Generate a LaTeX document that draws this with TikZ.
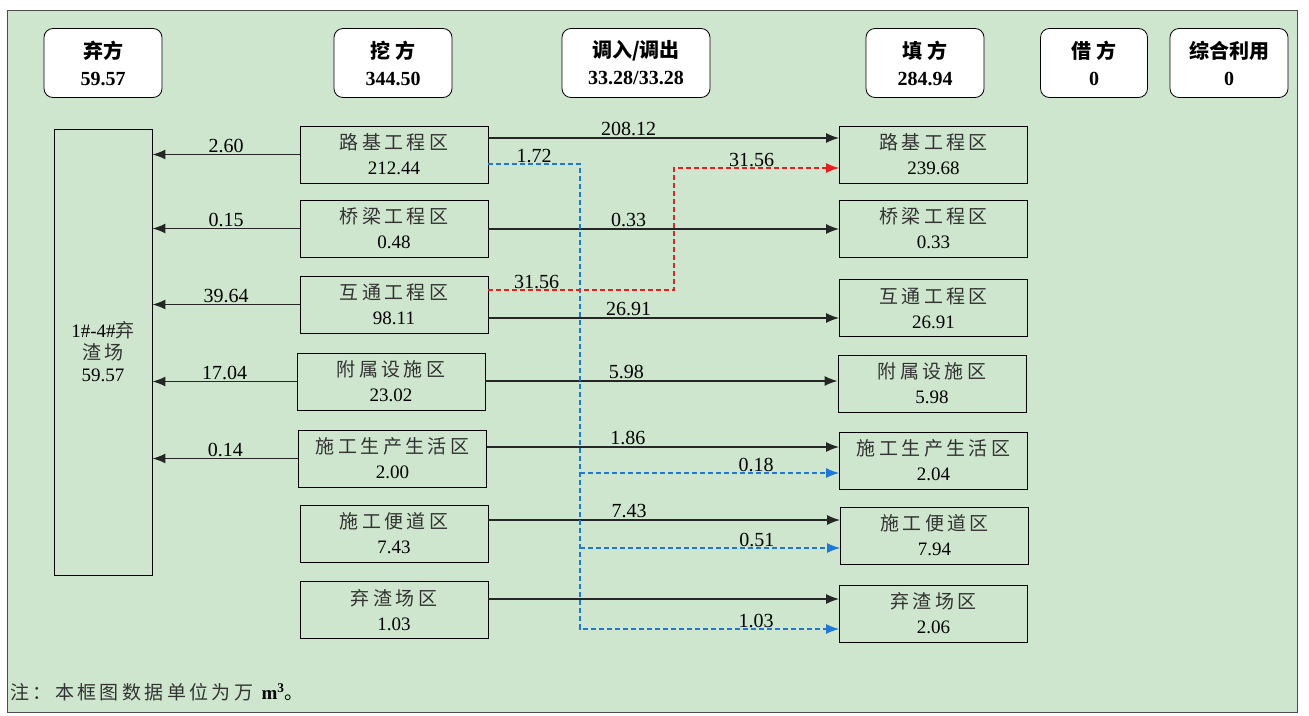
\documentclass[tikz,border=0pt]{standalone}
\usepackage{fontspec}
\setmainfont{Liberation Serif}
\newfontfamily\cjk{Noto Sans CJK SC}
\newfontfamily\cjksp[LetterSpace=18,Color=333333]{Noto Sans CJK SC}
\usetikzlibrary{arrows.meta,positioning}
\definecolor{bggreen}{RGB}{206,230,206}
\definecolor{blue}{RGB}{30,120,215}
\definecolor{red}{RGB}{235,30,30}

\begin{document}
\begin{tikzpicture}[>={Latex[length=13pt,width=10pt]},x=1pt,y=-1pt,
  head/.style={draw,fill=white,thick,rounded corners=9pt,minimum width=118pt,minimum height=69pt,
    align=center,font=\fontsize{20}{27}\selectfont\bfseries},
  area/.style={draw,thick,minimum width=188pt,minimum height=57pt,align=center,
    font=\fontsize{19}{25}\selectfont},
  flow/.style={->,line width=1.6pt,black!85},
  bluedash/.style={->,dash pattern=on 5pt off 3pt,line width=1.2pt,blue},
  reddash/.style={->,dash pattern=on 5pt off 3pt,line width=1.2pt,red},
  val/.style={font=\fontsize{20}{22}\selectfont,inner sep=1pt,text=black}]
\useasboundingbox (0,0) rectangle (1309,715);
\draw[fill=bggreen,draw=black!70,thick] (7,10) rectangle (1297,712);
% header boxes
\node[head] (qf) at (103,63) {{\cjk 弃方}\\59.57};
\node[head] (wf) at (393,63) {{\cjk 挖 方}\\344.50};
\node[head,minimum width=148pt] (dr) at (636,63) {{\cjk 调入/调出}\\33.28/33.28};
\node[head] (tf) at (925,63) {{\cjk 填 方}\\284.94};
\node[head,minimum width=107pt] (jf) at (1094,63) {{\cjk 借 方}\\0};
\node[head] (zh) at (1229,63) {{\cjk 综合利用}\\0};
% spoil site
\node[draw,thick,minimum width=98pt,minimum height=446pt,align=center,
  font=\fontsize{19}{22}\selectfont] (dump) at (103,352) {1\#-4\#{\cjksp 弃}\\{\cjksp 渣场}\\59.57};
% excavation areas
\node[area] (s1) at (394,154.5) {{\cjksp 路基工程区}\\212.44};
\node[area] (s2) at (394,228.5) {{\cjksp 桥梁工程区}\\0.48};
\node[area] (s3) at (394,304.5) {{\cjksp 互通工程区}\\98.11};
\node[area] (s4) at (391,381.5) {{\cjksp 附属设施区}\\23.02};
\node[area] (s5) at (392.5,458.5) {{\cjksp 施工生产生活区}\\2.00};
\node[area] (s6) at (394,533.5) {{\cjksp 施工便道区}\\7.43};
\node[area] (s7) at (394,610) {{\cjksp 弃渣场区}\\1.03};
% fill areas
\node[area] (t1) at (933.5,154.5) {{\cjksp 路基工程区}\\239.68};
\node[area] (t2) at (933.5,228.5) {{\cjksp 桥梁工程区}\\0.33};
\node[area] (t3) at (933.5,308) {{\cjksp 互通工程区}\\26.91};
\node[area] (t4) at (932,383.5) {{\cjksp 附属设施区}\\5.98};
\node[area] (t5) at (933.5,460.5) {{\cjksp 施工生产生活区}\\2.04};
\node[area] (t6) at (934.5,535.5) {{\cjksp 施工便道区}\\7.94};
\node[area] (t7) at (933.5,613.5) {{\cjksp 弃渣场区}\\2.06};
% to spoil site
\draw[flow] (s1.west) -- node[val,above]{2.60} (s1.west -| dump.east);
\draw[flow] (s2.west) -- node[val,above]{0.15} (s2.west -| dump.east);
\draw[flow] (s3.west) -- node[val,above]{39.64} (s3.west -| dump.east);
\draw[flow] (s4.west) -- node[val,above]{17.04} (s4.west -| dump.east);
\draw[flow] (s5.west) -- node[val,above]{0.14} (s5.west -| dump.east);
% used on site
\draw[flow] (s1.east |- 0,138) -- node[val,above,pos=.4]{208.12} (t1.west |- 0,138);
\draw[flow] (s2.east |- 0,229) -- node[val,above,pos=.4]{0.33} (t2.west |- 0,229);
\draw[flow] (s3.east |- 0,318) -- node[val,above,pos=.4]{26.91} (t3.west |- 0,318);
\draw[flow] (s4.east |- 0,381) -- node[val,above,pos=.4]{5.98} (t4.west |- 0,381);
\draw[flow] (s5.east |- 0,447) -- node[val,above,pos=.4]{1.86} (t5.west |- 0,447);
\draw[flow] (s6.east |- 0,520) -- node[val,above,pos=.4]{7.43} (t6.west |- 0,520);
\draw[flow] (s7.east |- 0,599) -- (t7.west |- 0,599);
% transfers
\coordinate (bv) at (580,164);
\coordinate (b5) at (580,473);
\coordinate (b6) at (580,548);
\coordinate (b7) at (580,629);
\draw[bluedash] (s1.east |- bv) -- node[val,above]{1.72} (bv) -- (b7)
  -- node[val,above,pos=.68]{1.03} (b7 -| t7.west);
\draw[bluedash] (b5) -- node[val,above,pos=.68]{0.18} (b5 -| t5.west);
\draw[bluedash] (b6) -- node[val,above,pos=.68]{0.51} (b6 -| t6.west);
\coordinate (rv) at (674,290);
\draw[reddash] (s3.east |- rv) -- node[val,above,pos=.26]{31.56} (rv) -- (rv |- 0,168)
  -- node[val,above,pos=.47]{31.56} (t1.west |- 0,168);
% note
\node[anchor=west,inner sep=0pt,font=\fontsize{19}{22}\selectfont] (note) at (10,692)
  {{\cjksp 注：本框图数据单位为万} \textbf{m\textsuperscript{3}}{\cjk 。}};
\end{tikzpicture}
\end{document}
